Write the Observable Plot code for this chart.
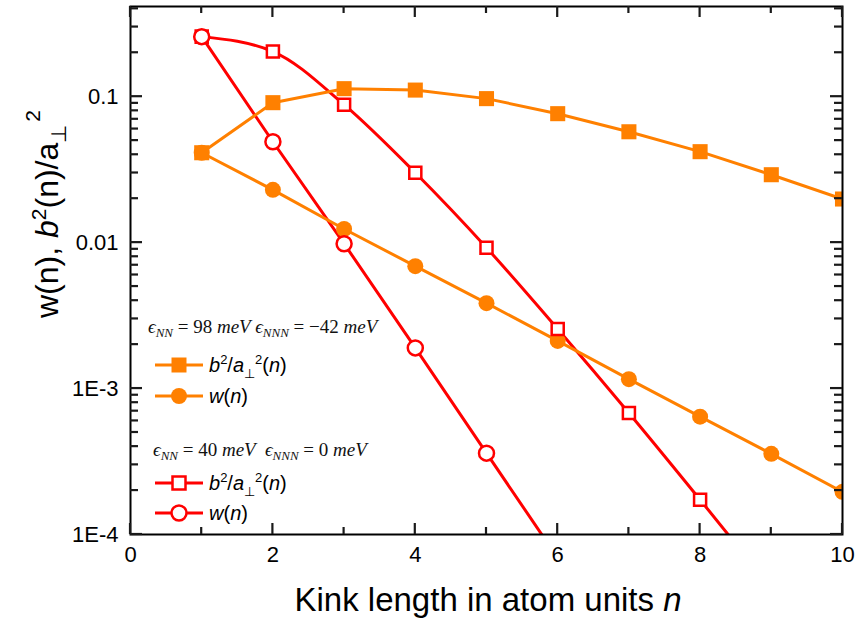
<!DOCTYPE html>
<html>
<head>
<meta charset="utf-8">
<script src="https://cdn.jsdelivr.net/npm/d3@7"></script>
<script src="https://cdn.jsdelivr.net/npm/@observablehq/plot@0.6"></script>
<style>
  html, body { margin: 0; padding: 0; background: #fff; }
  #chart { width: 857px; height: 623px; }
</style>
</head>
<body>
<div id="chart"></div>
<script>
// ---- data ----
const nOrange = [1, 2, 3, 4, 5, 6, 7, 8, 9, 10];
const orangeB2 = [0.0413, 0.091, 0.1135, 0.111, 0.097, 0.0765, 0.0575, 0.042, 0.0292, 0.0199];
const orangeW  = [0.0413, 0.0230, 0.0124, 0.00690, 0.00385, 0.00212, 0.00116, 0.000642, 0.000357, 0.000196];
const nRedB2 = [1, 2, 3, 4, 5, 6, 7, 8, 9];
const redB2  = [0.258, 0.204, 0.0882, 0.0301, 0.00923, 0.00256, 0.000680, 0.000173, 0.000043];
const nRedW = [1, 2, 3, 4, 5, 6];
const redW  = [0.258, 0.0491, 0.00983, 0.00190, 0.000361, 0.000069];

const xMajor = [0, 2, 4, 6, 8, 10];
const xMinor = [1, 3, 5, 7, 9];
const yMajor = [1e-4, 1e-3, 1e-2, 1e-1];
const yMajorLabels = ["1E-4", "1E-3", "0.01", "0.1"];
const yMinor = [];
for (const d of [1e-4, 1e-3, 1e-2, 1e-1]) for (let k = 2; k <= 9; k++) if (k * d < 0.415) yMinor.push(k * d);

const ORANGE = "#FF8000";
const RED = "#FF0000";

const toRows = (xs, ys) => xs.map((x, i) => ({x, y: ys[i]}));
const oB2 = toRows(nOrange, orangeB2);
const oW = toRows(nOrange, orangeW);
const rB2 = toRows(nRedB2, redB2);
const rW = toRows(nRedW, redW);

const FONT = "Liberation Sans, Arial, sans-serif";
const W = 857, H = 623, ML = 130, MR = 15, MT = 6, MB = 89;

const plot = Plot.plot({
  width: W,
  height: H,
  marginLeft: ML,
  marginRight: MR,
  marginTop: MT,
  marginBottom: MB,
  style: {fontFamily: FONT, background: "#fff", overflow: "visible"},
  x: {domain: [0, 10], label: null},
  y: {type: "log", domain: [1e-4, 0.415], label: null},
  marks: [
    Plot.axisX({anchor: "bottom", ticks: xMajor, tickSize: 0, tickPadding: 12, fontSize: 22, tickFormat: d => String(d)}),
    Plot.axisY({anchor: "left", ticks: yMajor, tickSize: 0, tickPadding: 12, fontSize: 22,
      tickFormat: d => yMajorLabels[yMajor.findIndex(v => Math.abs(v - d) / d < 1e-6)]}),
    Plot.line(rB2, {x: "x", y: "y", stroke: RED, strokeWidth: 3, curve: "monotone-x", clip: true}),
    Plot.line(rW, {x: "x", y: "y", stroke: RED, strokeWidth: 3, clip: true}),
    Plot.line(oB2, {x: "x", y: "y", stroke: ORANGE, strokeWidth: 3, clip: true}),
    Plot.line(oW, {x: "x", y: "y", stroke: ORANGE, strokeWidth: 3, clip: true}),
    Plot.dot(oB2, {x: "x", y: "y", symbol: "square", r: 8.5, fill: ORANGE, stroke: "none", clip: true}),
    Plot.dot(oW, {x: "x", y: "y", symbol: "circle", r: 8, fill: ORANGE, stroke: "none", clip: true}),
    Plot.dot(rB2, {x: "x", y: "y", symbol: "square", r: 6.8, fill: "white", stroke: RED, strokeWidth: 2.5, clip: true}),
    Plot.dot(rW, {x: "x", y: "y", symbol: "circle", r: 7.5, fill: "white", stroke: RED, strokeWidth: 2.5, clip: true}),
    Plot.frame({stroke: "black", strokeWidth: 2})
  ]
});

document.getElementById("chart").appendChild(plot);

const svg = d3.select(plot);
const sx = plot.scale("x"), sy = plot.scale("y");
const x0 = ML, x1 = W - MR, y0 = MT, y1 = H - MB;

// ---- inward ticks on all four sides, positioned through the plot's scales ----
const tg = svg.append("g");
function xTick(v, len) {
  const px = sx.apply(v);
  tg.append("line").attr("x1", px).attr("x2", px).attr("y1", y1).attr("y2", y1 - len)
    .attr("stroke", "#1a1a1a").attr("stroke-width", 2.2);
  tg.append("line").attr("x1", px).attr("x2", px).attr("y1", y0).attr("y2", y0 + len)
    .attr("stroke", "#1a1a1a").attr("stroke-width", 2.2);
}
function yTick(v, len) {
  const py = sy.apply(v);
  tg.append("line").attr("x1", x0).attr("x2", x0 + len).attr("y1", py).attr("y2", py)
    .attr("stroke", "#1a1a1a").attr("stroke-width", 2.2);
  tg.append("line").attr("x1", x1).attr("x2", x1 - len).attr("y1", py).attr("y2", py)
    .attr("stroke", "#1a1a1a").attr("stroke-width", 2.2);
}
xMajor.forEach(v => xTick(v, 11));
xMinor.forEach(v => xTick(v, 7));
yMajor.forEach(v => yTick(v, 12));
yMinor.forEach(v => yTick(v, 8));

// ---- axis titles ----
const xtitle = svg.append("text")
  .attr("x", 488).attr("y", 611)
  .attr("text-anchor", "middle")
  .attr("font-family", FONT).attr("font-size", 33).attr("fill", "black");
xtitle.append("tspan").text("Kink length in atom units ");
xtitle.append("tspan").attr("font-style", "italic").text("n");

const ytitle = svg.append("text")
  .attr("transform", "translate(58,214) rotate(-90)")
  .attr("text-anchor", "middle")
  .attr("font-family", FONT).attr("font-size", 32).attr("fill", "black");
ytitle.append("tspan").text("w(n), ");
ytitle.append("tspan").attr("font-style", "italic").text("b");
ytitle.append("tspan").attr("font-size", 21).attr("dy", -12).text("2");
ytitle.append("tspan").attr("dy", 12).text("(n)/a");
ytitle.append("tspan").attr("font-size", 21).attr("dy", 8).text("\u22A5");
ytitle.append("tspan").attr("font-size", 21).attr("dy", -26).attr("dx", 3).text("2");

// ---- legend ----
const SERIF = "Liberation Serif, 'Times New Roman', serif";
function header(y, parts) {
  const t = svg.append("text").attr("x", 0).attr("y", y).attr("text-anchor", "start")
    .attr("font-family", SERIF).attr("font-size", 19).attr("fill", "#111");
  for (const p of parts) {
    const s = t.append("tspan").text(p.t);
    if (p.x != null) s.attr("x", p.x);
    if (p.i) s.attr("font-style", "italic");
    if (p.sub) s.attr("font-size", 13).attr("dy", 4);
    if (p.up) s.attr("dy", -4);
  }
}
header(333, [
  {t: "\u03F5", i: true, x: 148}, {t: "NN", i: true, sub: true}, {t: " = 98 ", up: true}, {t: "meV", i: true},
  {t: " \u03F5", i: true}, {t: "NNN", i: true, sub: true}, {t: " = \u221242 ", up: true}, {t: "meV", i: true}
]);
header(456, [
  {t: "\u03F5", i: true, x: 153}, {t: "NN", i: true, sub: true}, {t: " = 40 ", up: true}, {t: "meV", i: true},
  {t: "  \u03F5", i: true}, {t: "NNN", i: true, sub: true}, {t: " = 0 ", up: true}, {t: "meV", i: true}
]);

function legendRow(y, color, symbol, hollow, label) {
  const g = svg.append("g");
  g.append("line").attr("x1", 155).attr("x2", 203).attr("y1", y).attr("y2", y)
    .attr("stroke", color).attr("stroke-width", 3);
  const side = hollow ? 13 : 15;
  const sz = symbol === "square" ? side * side : Math.PI * (hollow ? 7.5 : 8) ** 2;
  g.append("path")
    .attr("d", d3.symbol(symbol === "square" ? d3.symbolSquare : d3.symbolCircle, sz)())
    .attr("transform", `translate(179,${y})`)
    .attr("fill", hollow ? "white" : color)
    .attr("stroke", hollow ? color : "none")
    .attr("stroke-width", 2.5);
  const t = g.append("text").attr("x", 209).attr("y", y + 7).attr("text-anchor", "start")
    .attr("font-family", FONT).attr("font-size", 20).attr("fill", "black");
  if (label === "b2") {
    t.append("tspan").attr("font-style", "italic").text("b");
    t.append("tspan").attr("font-size", 13).attr("dy", -8).text("2");
    t.append("tspan").attr("dy", 8).text("/");
    t.append("tspan").attr("font-style", "italic").text("a");
    t.append("tspan").attr("font-size", 13).attr("dy", 6).text("\u22A5");
    t.append("tspan").attr("font-size", 13).attr("dy", -14).text("2");
    t.append("tspan").attr("dy", 8).text("(");
    t.append("tspan").attr("font-style", "italic").text("n");
    t.append("tspan").text(")");
  } else {
    t.append("tspan").attr("font-style", "italic").text("w");
    t.append("tspan").text("(");
    t.append("tspan").attr("font-style", "italic").text("n");
    t.append("tspan").text(")");
  }
}
legendRow(365, ORANGE, "square", false, "b2");
legendRow(396, ORANGE, "circle", false, "w");
legendRow(483, RED, "square", true, "b2");
legendRow(513, RED, "circle", true, "w");
</script>
</body>
</html>
